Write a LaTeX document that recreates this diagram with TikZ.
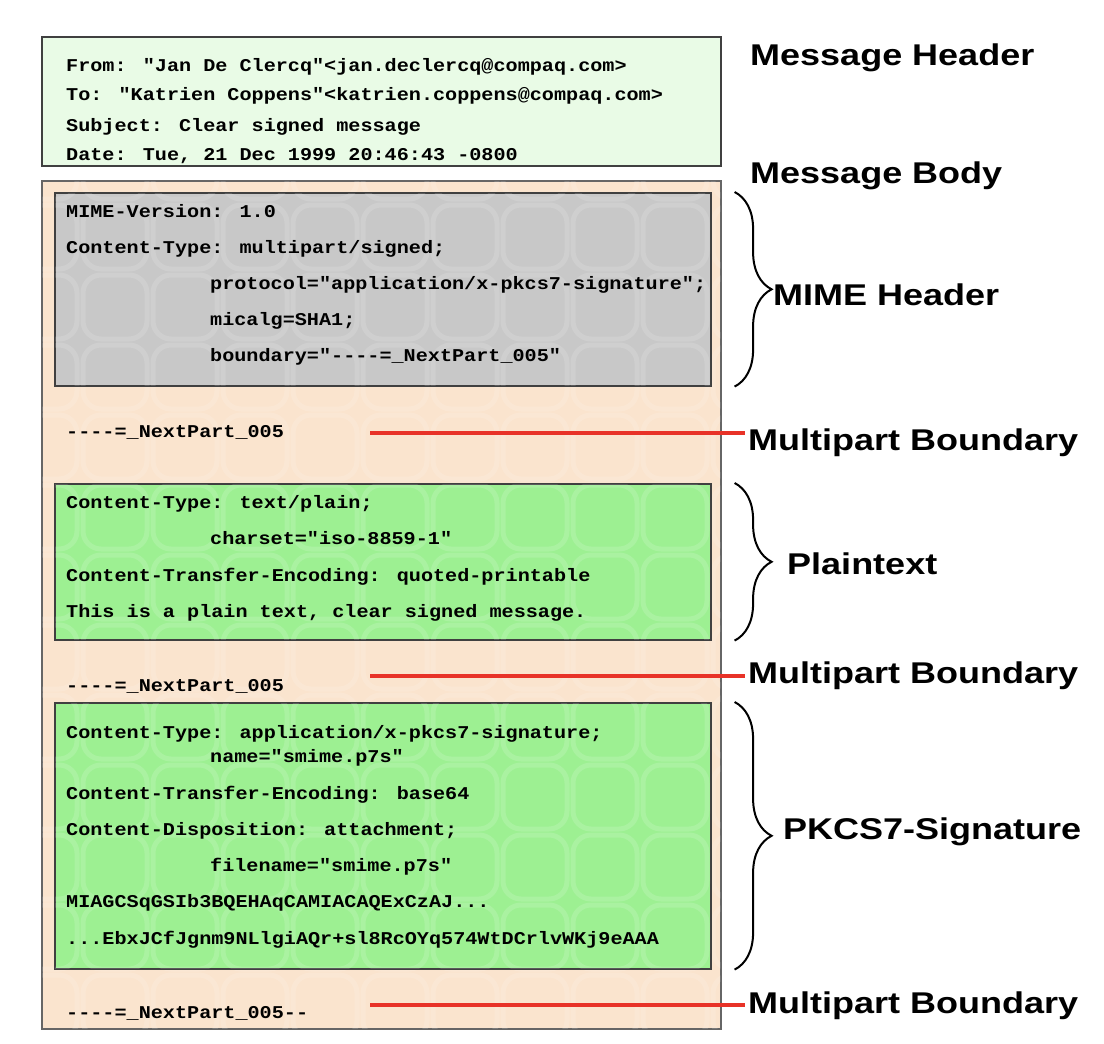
\documentclass[tikz,border=0pt]{standalone}
\usepackage{fontspec}
\setmainfont{Liberation Sans}
\newfontfamily\mailfont[FakeStretch=1.12, Ligatures=TeXOff]{Liberation Mono}
\newfontfamily\tagfont[FakeStretch=1.2]{Liberation Sans}
\usetikzlibrary{positioning, calc, decorations.pathreplacing}
\definecolor{hdrgreen}{RGB}{233,251,230}
\definecolor{bodypeach}{RGB}{250,228,206}
\definecolor{mimegray}{RGB}{200,200,200}
\definecolor{partgreen}{RGB}{157,240,146}
\definecolor{bndred}{RGB}{232,50,40}
\definecolor{boxedge}{RGB}{64,64,64}
\tikzset{
    panel/.style={rectangle, draw=boxedge, line width=1.6pt, fill=#1, anchor=north west, inner sep=0pt},
    mailtext/.style={anchor=base west, inner sep=0pt, font=\mailfont\bfseries\fontsize{18}{20}\selectfont},
    tagtext/.style={anchor=base west, inner sep=0pt, font=\tagfont\bfseries\fontsize{30}{34}\selectfont},
    bndline/.style={line width=4.5pt, color=bndred},
    partbrace/.style={decorate, decoration={brace, amplitude=37pt}, line width=2pt},
    tile/.style={draw=white, draw opacity=0.14, line width=5pt, rounded corners=18pt}
}
% faint tiled texture inside a box
\newcommand{\tiled}[1]{%
    \begin{scope}
        \clip ($(#1.north west)+(1,1)$) rectangle ($(#1.south east)+(-1,-1)$);
        \foreach \tx in {0,...,10}
            \foreach \ty in {0,...,14}
                \draw[tile] ({13+70*\tx},{-5+70*\ty}) rectangle +(64,64);
    \end{scope}}

\begin{document}
\begin{tikzpicture}[x=1pt, y=-1pt]
    \useasboundingbox[fill=white] (0,0) rectangle (1104,1044);

    % boxes
    \node[panel=hdrgreen, minimum width=679pt, minimum height=129pt] (hdrbox) at (41,36) {};
    \node[panel=bodypeach, minimum width=679pt, minimum height=848pt, draw=boxedge!80] (bodybox) at (41,180) {};
    \tiled{bodybox}
    \node[panel=mimegray, minimum width=656pt, minimum height=193pt] (mimebox) at (54,192) {};
    \tiled{mimebox}
    \node[panel=partgreen, minimum width=656pt, minimum height=156pt] (plainbox) at (54,483) {};
    \tiled{plainbox}
    \node[panel=partgreen, minimum width=656pt, minimum height=266pt] (sigbox) at (54,702) {};
    \tiled{sigbox}

    % message header
    \node[mailtext] (hdr1) at (66,71) {From: "Jan De Clercq"<jan.declercq@compaq.com>};
    \node[mailtext] (hdr2) at (66,100) {To: "Katrien Coppens"<katrien.coppens@compaq.com>};
    \node[mailtext] (hdr3) at (66,131) {Subject: Clear signed message};
    \node[mailtext] (hdr4) at (66,160) {Date: Tue, 21 Dec 1999 20:46:43 -0800};

    % mime header
    \node[mailtext] (mime1) at (66,217) {MIME-Version: 1.0};
    \node[mailtext] (mime2) at (66,253) {Content-Type: multipart/signed;};
    \node[mailtext] (mime3) at (210,289) {protocol="application/x-pkcs7-signature";};
    \node[mailtext] (mime4) at (210,325) {micalg=SHA1;};
    \node[mailtext] (mime5) at (210,361) {boundary="----=\_NextPart\_005"};
    \node[mailtext] (bnd1) at (66,437) {----=\_NextPart\_005};

    % plaintext part
    \node[mailtext] (plain1) at (66,508) {Content-Type: text/plain;};
    \node[mailtext] (plain2) at (210,544) {charset="iso-8859-1"};
    \node[mailtext] (plain3) at (66,581) {Content-Transfer-Encoding: quoted-printable};
    \node[mailtext] (plain4) at (66,617) {This is a plain text, clear signed message.};
    \node[mailtext] (bnd2) at (66,691) {----=\_NextPart\_005};

    % signature part
    \node[mailtext] (sig1) at (66,738) {Content-Type: application/x-pkcs7-signature;};
    \node[mailtext] (sig2) at (210,762) {name="smime.p7s"};
    \node[mailtext] (sig3) at (66,799) {Content-Transfer-Encoding: base64};
    \node[mailtext] (sig4) at (66,835) {Content-Disposition: attachment;};
    \node[mailtext] (sig5) at (210,871) {filename="smime.p7s"};
    \node[mailtext] (sig6) at (66,907) {MIAGCSqGSIb3BQEHAqCAMIACAQExCzAJ...};
    \node[mailtext] (sig7) at (66,944) {...EbxJCfJgnm9NLlgiAQr+sl8RcOYq574WtDCrlvWKj9eAAA};
    \node[mailtext] (bnd3) at (66,1018) {----=\_NextPart\_005--};

    % labels on the right
    \node[tagtext] (msghdr) at (750,65) {Message Header};
    \node[tagtext] (msgbody) at (750,183) {Message Body};
    \node[tagtext] (mimelbl) at (773,305) {MIME Header};
    \node[tagtext] (mb1) at (748,450) {Multipart Boundary};
    \node[tagtext] (plainlbl) at (787,574) {Plaintext};
    \node[tagtext] (mb2) at (748,683) {Multipart Boundary};
    \node[tagtext] (siglbl) at (783,839) {PKCS7-Signature};
    \node[tagtext] (mb3) at (748,1013) {Multipart Boundary};

    % braces
    \draw[partbrace] ($(mimebox.north east)+(23,0)$) -- ($(mimebox.south east)+(23,0)$);
    \draw[partbrace] ($(plainbox.north east)+(23,0)$) -- ($(plainbox.south east)+(23,0)$);
    \draw[partbrace] ($(sigbox.north east)+(23,0)$) -- ($(sigbox.south east)+(23,0)$);

    % boundary markers
    \coordinate (cut1) at (370,433);
    \coordinate (cut2) at (370,676);
    \coordinate (cut3) at (370,1005);
    \draw[bndline] (cut1) -- ([xshift=-3pt]cut1 -| mb1.west);
    \draw[bndline] (cut2) -- ([xshift=-3pt]cut2 -| mb2.west);
    \draw[bndline] (cut3) -- ([xshift=-3pt]cut3 -| mb3.west);
\end{tikzpicture}
\end{document}
